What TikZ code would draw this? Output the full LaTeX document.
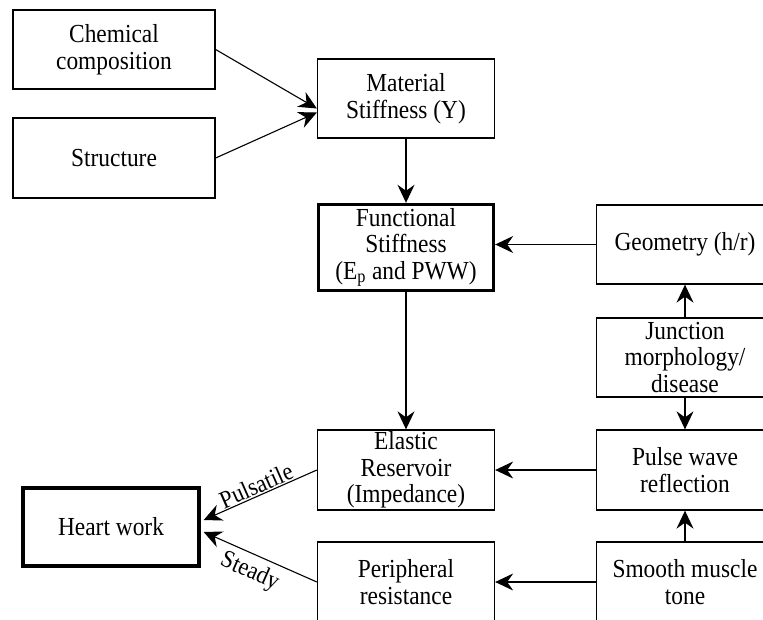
\documentclass[tikz,border=0pt]{standalone}
\usepackage{fontspec}
\setmainfont{Liberation Serif}[FakeStretch=0.9]
\usetikzlibrary{arrows.meta}
\begin{document}
\begin{tikzpicture}[x=1pt,y=-1pt,
  box/.style={draw, line width=1.3pt, minimum width=177pt, minimum height=79pt, inner sep=0pt, align=center, font=\fontsize{26}{26.5}\selectfont},
  thickbox/.style={box, line width=3.4pt},
  arr/.style={line width=1.1pt, -{Stealth[length=18pt,width=17pt,inset=6pt]}},
  rarr/.style={line width=1.1pt, {Stealth[length=18pt,width=17pt,inset=6pt]}-},
  lbl/.style={font=\fontsize{25}{26}\selectfont, inner sep=1pt}]
\clip (0,0) rectangle (763,619);
\fill[white] (0,0) rectangle (763,619);
\node[box, minimum width=202pt] (chem) at (114,49.5) {Chemical\\composition};
\node[box, minimum width=202pt, minimum height=80pt] (struct) at (114,158) {Structure};
\node[box] (mat) at (406,98.5) {Material\\Stiffness (Y)};
\node[thickbox, minimum height=86pt, minimum width=175pt] (func) at (406,247.5) {Functional\\Stiffness\\(E\textsubscript{p} and PWW)};
\node[box] (geom) at (685,244.5) {Geometry (h/r)};
\node[box] (junc) at (685,357.5) {Junction\\morphology/\\disease};
\node[box, minimum height=80pt] (elastic) at (406,470) {Elastic\\Reservoir\\(Impedance)};
\node[box, minimum height=80pt] (pulse) at (685,470) {Pulse wave\\reflection};
\node[thickbox, minimum width=176pt, minimum height=78pt] (heart) at (111,527) {Heart work};
\node[box, minimum height=80pt] (periph) at (406,582) {Peripheral\\resistance};
\node[box, minimum height=80pt] (smooth) at (685,582) {Smooth muscle\\tone};
\coordinate (matA) at ([yshift=-10pt]mat.west);
\coordinate (matB) at ([yshift=-14pt]mat.west);
\coordinate (heartA) at ([xshift=3pt,yshift=7pt]heart.east);
\coordinate (heartB) at ([xshift=3pt,yshift=-5pt]heart.east);
\draw[arr] (chem.east) -- (matA);
\draw[arr] (struct.east) -- (matB);
\draw[arr] (mat.south) -- (func.north);
\draw[arr] (func.south) -- (elastic.north);
\draw[arr] (geom.west) -- (geom.west -| func.east);
\draw[arr] (junc.north) -- (geom.south);
\draw[arr] (junc.south) -- (pulse.north);
\draw[arr] (pulse.west) -- (elastic.east);
\draw[arr] (smooth.north) -- (pulse.south);
\draw[arr] (smooth.west) -- (periph.east);
\draw[rarr] (heartA) -- node[lbl, sloped, above, pos=0.5] {Pulsatile} (elastic.west);
\draw[rarr] (heartB) -- node[lbl, sloped, below=5pt, pos=0.47] {Steady} (periph.west);
\end{tikzpicture}
\end{document}
